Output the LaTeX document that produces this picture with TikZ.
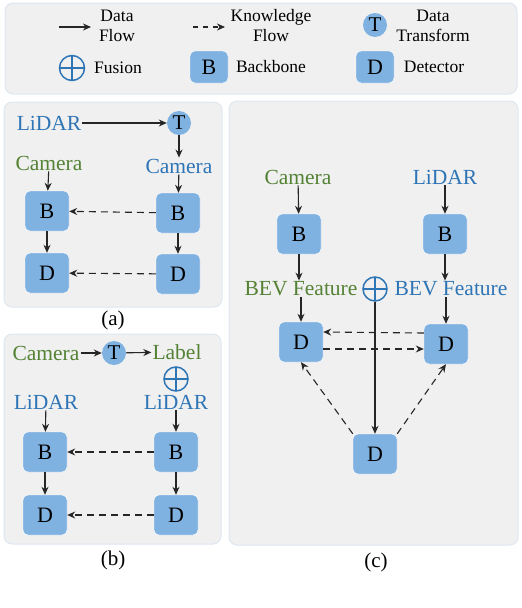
\documentclass[tikz,border=0pt]{standalone}
\usepackage{fontspec}
\setmainfont{Liberation Serif}
\usetikzlibrary{arrows.meta}

\definecolor{boxblue}{RGB}{128,178,225}
\definecolor{txtblue}{RGB}{46,117,182}
\definecolor{txtgreen}{RGB}{84,130,53}
\definecolor{panelgray}{RGB}{240,240,240}
\definecolor{paneledge}{RGB}{222,230,240}

\tikzset{
  panel/.style={draw=paneledge, line width=1pt, fill=panelgray, rounded corners=8pt},
  blk/.style={fill=boxblue, draw=white, rounded corners=5pt, minimum width=44pt, minimum height=40pt, inner sep=0pt, font=\fontsize{22}{26}\selectfont},
  trans/.style={circle, fill=boxblue, minimum size=24pt, inner sep=0pt, font=\fontsize{21}{25}\selectfont},
  fuse/.style={circle, draw=txtblue, line width=1.5pt, minimum size=24pt, inner sep=0pt,
    path picture={\draw[txtblue, line width=1.5pt] (path picture bounding box.north) -- (path picture bounding box.south)
      (path picture bounding box.west) -- (path picture bounding box.east);}},
  lbl/.style={inner sep=1pt, font=\fontsize{21.5}{25}\selectfont},
  leg/.style={align=center, font=\fontsize{17.5}{20}\selectfont},
  flow/.style={-{Stealth[length=8pt,width=7pt]}, line width=1.1pt, draw=black!85},
  know/.style={flow, dash pattern=on 7pt off 5pt},
}

\begin{document}
\begin{tikzpicture}[x=1pt, y=-1pt]
\useasboundingbox (0,0) rectangle (522,608);

% panels
\draw[panel] (5,3) rectangle (517,94);
\draw[panel] (4,102) rectangle (222,307);
\draw[panel] (4,334) rectangle (221,544);
\draw[panel] (229,101) rectangle (518,545);

% legend
\coordinate (l1a) at (59,27);
\coordinate (l1b) at (91,27);
\coordinate (l2a) at (193,27);
\coordinate (l2b) at (225,27);
\draw[flow] (l1a) -- (l1b);
\draw[know, dash pattern=on 5pt off 5pt] (l2a) -- (l2b);
\node[leg] (ldata) at (117,26) {Data\\Flow};
\node[leg] (lknow) at (271,26) {Knowledge\\Flow};
\node[trans] (lt) at (375,25) {T};
\node[leg] (ltrans) at (433,26) {Data\\Transform};
\node[fuse, minimum size=25pt] (lfuse) at (72,68) {};
\node[leg] (lfusion) at (118,68) {Fusion};
\node[blk, minimum width=38pt, minimum height=32pt] (lb) at (209,67) {B};
\node[leg] (lback) at (271,67) {Backbone};
\node[blk, minimum width=38pt, minimum height=32pt] (ld) at (375,67) {D};
\node[leg] (ldet) at (434,67) {Detector};

% (a)
\node[lbl, txtblue] (alidar) at (49,123) {LiDAR};
\node[trans] (at) at (179,123) {T};
\node[lbl, txtgreen] (acaml) at (49,163) {Camera};
\node[lbl, txtblue] (acamr) at (179,166) {Camera};
\node[blk] (abl) at (47,211) {B};
\node[blk] (abr) at (178,213) {B};
\node[blk] (adl) at (47,273) {D};
\node[blk] (adr) at (178,274) {D};
\draw[flow] (alidar) -- (at);
\draw[flow] (at) -- (acamr);
\draw[flow] (acaml) -- (abl);
\draw[flow] (acamr) -- (abr);
\draw[flow] (abl) -- (adl);
\draw[flow] (abr) -- (adr);
\draw[know] (abr) -- (abl);
\draw[know] (adr) -- (adl);
\node[font=\fontsize{21}{25}\selectfont] (capa) at (113,320) {(a)};

% (b)
\node[lbl, txtgreen] (bcam) at (46,353) {Camera};
\node[trans] (bt) at (114,353) {T};
\node[lbl, txtgreen] (blabel) at (177,352) {Label};
\node[fuse] (bfuse) at (176,379) {};
\node[lbl, txtblue] (blidl) at (46,402) {LiDAR};
\node[lbl, txtblue] (blidr) at (176,402) {LiDAR};
\node[blk] (bbl) at (45,452) {B};
\node[blk] (bbr) at (176,452) {B};
\node[blk] (bdl) at (45,515) {D};
\node[blk] (bdr) at (176,515) {D};
\draw[flow] (bcam) -- (bt);
\draw[flow] (bt) -- (blabel);
\draw[flow] (blidl) -- (bbl);
\draw[flow] (blidr) -- (bbr);
\draw[flow] (bbl) -- (bdl);
\draw[flow] (bbr) -- (bdr);
\draw[know] (bbr) -- (bbl);
\draw[know] (bdr) -- (bdl);
\node[font=\fontsize{21}{25}\selectfont] (capb) at (113,560) {(b)};

% (c)
\node[lbl, txtgreen] (ccam) at (298,177) {Camera};
\node[lbl, txtblue] (clidar) at (445,177) {LiDAR};
\node[blk] (cbl) at (299,234) {B};
\node[blk] (cbr) at (445,234) {B};
\node[lbl, txtgreen] (cbevl) at (301,289) {BEV Feature};
\node[fuse] (cfuse) at (375,289) {};
\node[lbl, txtblue] (cbevr) at (451,289) {BEV Feature};
\node[blk] (cdl) at (301,342) {D};
\node[blk] (cdr) at (446,344) {D};
\node[blk] (cdb) at (375,454) {D};
\draw[flow] (ccam) -- (cbl);
\draw[flow] (clidar) -- (cbr);
\draw[flow] (cbl) -- (cbevl.north -| cbl);
\draw[flow] (cbr) -- (cbevr.north -| cbr);
\draw[flow] (cbevl.south -| cdl) -- (cdl);
\draw[flow] (cbevr.south -| cdr) -- (cdr);
\draw[know] ([yshift=11pt]cdr.west) -- ([yshift=10pt]cdl.east);
\draw[know] ([yshift=-7pt]cdl.east) -- ([yshift=-5pt]cdr.west);
\draw[flow] (cfuse) -- (cdb);
\draw[know] (cdb.north west) -- (cdl.south);
\draw[know] (cdb.north east) -- (cdr.south);
\node[font=\fontsize{21}{25}\selectfont] (capc) at (376,562) {(c)};
\end{tikzpicture}
\end{document}
